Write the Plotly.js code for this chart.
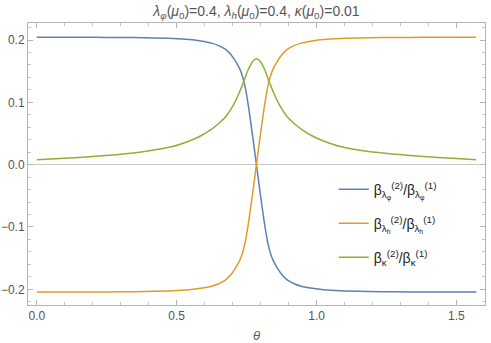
<!DOCTYPE html>
<html>
<head>
<meta charset="utf-8">
<script src="https://cdn.plot.ly/plotly-3.0.1.min.js"></script>
<style>html,body{margin:0;padding:0;background:#fff;}#chart{width:491px;height:343px;}</style>
</head>
<body>
<div id="chart"></div>
<script>
// theta sample points
const theta = [0, 0.1, 0.2, 0.3, 0.385, 0.485, 0.545, 0.585, 0.625, 0.65, 0.675, 0.695, 0.71, 0.725, 0.735, 0.745, 0.755, 0.765, 0.775, 0.785,
               0.795, 0.805, 0.815, 0.825, 0.835, 0.845, 0.86, 0.875, 0.895, 0.92, 0.945, 0.985, 1.025, 1.085, 1.185, 1.285, 1.385, 1.485, 1.5708];
// beta_{lambda_phi}^(2) / beta_{lambda_phi}^(1)
const ratioLamPhi = [0.2045, 0.2044, 0.2043, 0.2041, 0.2036, 0.2025, 0.2008, 0.1985, 0.1950, 0.1910, 0.1850, 0.1760, 0.1660, 0.1540, 0.1420, 0.1240, 0.0980, 0.0670, 0.0340, 0.0,
                     -0.0340, -0.0670, -0.0980, -0.1240, -0.1420, -0.1540, -0.1660, -0.1760, -0.1850, -0.1910, -0.1950, -0.1985, -0.2008, -0.2025, -0.2036, -0.2041, -0.2043, -0.2044, -0.2045];
// beta_{lambda_h}^(2) / beta_{lambda_h}^(1)
const ratioLamH = [-0.2045, -0.2044, -0.2043, -0.2041, -0.2036, -0.2025, -0.2008, -0.1985, -0.1950, -0.1910, -0.1850, -0.1760, -0.1660, -0.1540, -0.1420, -0.1240, -0.0980, -0.0670, -0.0340, 0.0,
                   0.0340, 0.0670, 0.0980, 0.1240, 0.1420, 0.1540, 0.1660, 0.1760, 0.1850, 0.1910, 0.1950, 0.1985, 0.2008, 0.2025, 0.2036, 0.2041, 0.2043, 0.2044, 0.2045];
// beta_kappa^(2) / beta_kappa^(1)
const ratioKappa = [0.008, 0.0102, 0.0130, 0.0165, 0.021, 0.029, 0.038, 0.046, 0.057, 0.066, 0.077, 0.090, 0.102, 0.117, 0.128, 0.140, 0.152, 0.161, 0.1675, 0.170,
                    0.1675, 0.161, 0.152, 0.140, 0.128, 0.117, 0.102, 0.090, 0.077, 0.066, 0.057, 0.046, 0.038, 0.029, 0.021, 0.0165, 0.0130, 0.0102, 0.008];

const names = [
  "β<sub>λ<sub>φ</sub></sub><sup>(2)</sup>/β<sub>λ<sub>φ</sub></sub><sup>(1)</sup>",
  "β<sub>λ<sub>h</sub></sub><sup>(2)</sup>/β<sub>λ<sub>h</sub></sub><sup>(1)</sup>",
  "β<sub>κ</sub><sup>(2)</sup>/β<sub>κ</sub><sup>(1)</sup>"
];
const colors = ["#5E81B5", "#E19C24", "#8FB032"];
const series = [ratioLamPhi, ratioLamH, ratioKappa];
const legendIds = ["legend", "legend2", "legend3"];

const traces = series.map((s, i) => ({
  x: theta, y: s, type: "scatter", mode: "lines", name: names[i], legend: legendIds[i],
  line: {color: colors[i], width: 1.5, shape: "spline", smoothing: 0.8}
}));

const fam = "Liberation Sans, Arial, sans-serif";
const tickFont = {family: fam, size: 12, color: "#555"};
const legendFont = {family: fam, size: 14, color: "#222"};
function legendAt(y) {
  return {x: 0.669, y: y, xanchor: "left", yanchor: "middle", bgcolor: "rgba(0,0,0,0)", borderwidth: 0, font: legendFont};
}
const layout = {
  width: 491, height: 343,
  margin: {l: 28, r: 5.5, t: 23, b: 37.5},
  paper_bgcolor: "#fff", plot_bgcolor: "#fff",
  showlegend: true,
  title: {
    text: "<i>λ</i><sub><i>φ</i></sub>(<i>μ</i><sub>0</sub>)=0.4, <i>λ</i><sub><i>h</i></sub>(<i>μ</i><sub>0</sub>)=0.4, <i>κ</i>(<i>μ</i><sub>0</sub>)=0.01",
    font: {family: fam, size: 14, color: "#555"},
    x: 0.5, xref: "paper", y: 1 - 11 / 343, yref: "container", yanchor: "middle"
  },
  xaxis: {
    range: [-0.0315, 1.602], showgrid: false, zeroline: false,
    showline: true, mirror: "allticks", linecolor: "#b5b5b5", linewidth: 1,
    ticks: "inside", ticklen: 5, tickcolor: "#b5b5b5", tickwidth: 1,
    tickvals: [0, 0.5, 1.0, 1.5], tickformat: ".1f", tickfont: tickFont,
    minor: {dtick: 0.1, tick0: 0, ticks: "inside", ticklen: 3, tickcolor: "#c5c5c5", showgrid: false},
    title: {text: "<i>θ</i>", font: {family: fam, size: 13, color: "#555"}, standoff: 17}
  },
  yaxis: {
    range: [-0.2252, 0.2273], showgrid: false,
    zeroline: true, zerolinecolor: "#c8c8c8", zerolinewidth: 1,
    showline: true, mirror: "allticks", linecolor: "#b5b5b5", linewidth: 1,
    ticks: "inside", ticklen: 5, tickcolor: "#b5b5b5", tickwidth: 1,
    tickvals: [-0.2, -0.1, 0, 0.1, 0.2], tickformat: ".1f", tickfont: tickFont,
    minor: {dtick: 0.02, tick0: 0, ticks: "inside", ticklen: 3, tickcolor: "#c5c5c5", showgrid: false}
  },
  legend: legendAt(0.4088),
  legend2: legendAt(0.2885),
  legend3: legendAt(0.168)
};

Plotly.newPlot("chart", traces, layout, {displayModeBar: false, staticPlot: true});
</script>
</body>
</html>
